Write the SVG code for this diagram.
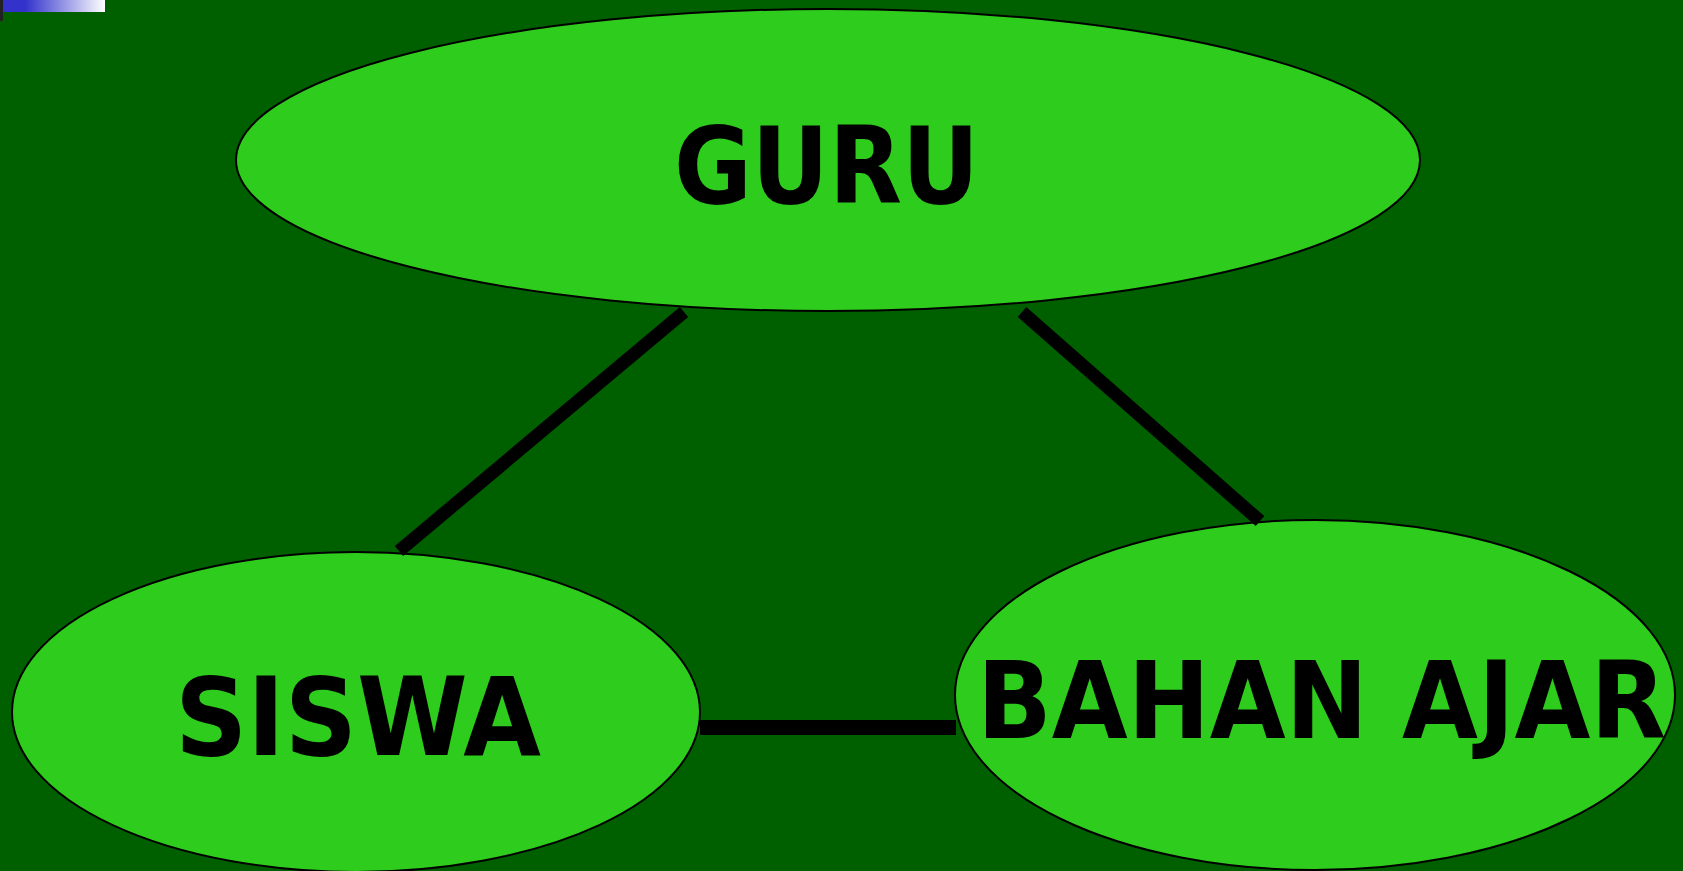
<svg xmlns="http://www.w3.org/2000/svg" width="1683" height="871" viewBox="0 0 1683 871">
<style>
.node{fill:#2ECC1C;stroke:#000;stroke-width:2}
.lbl{font-family:"DejaVu Sans","Liberation Sans",sans-serif;font-weight:bold;fill:#000}
.conn{stroke:#000;stroke-width:13;stroke-linecap:butt;fill:none}
</style>
<defs>
<linearGradient id="g1" x1="0" y1="0" x2="1" y2="0">
<stop offset="0" stop-color="#3333CC"/>
<stop offset="0.22" stop-color="#3333CC"/>
<stop offset="1" stop-color="#FFFFFF"/>
</linearGradient>
</defs>
<rect x="0" y="0" width="1683" height="871" fill="#006000"/>
<rect x="3" y="0" width="102" height="12" fill="url(#g1)"/>
<rect x="0" y="0" width="3" height="21" fill="#222"/>
<g id="guru">
<ellipse class="node" cx="828" cy="160" rx="592" ry="151"/>
<text class="lbl" x="674" y="203" font-size="107" textLength="305" lengthAdjust="spacingAndGlyphs">GURU</text>
</g>
<g id="siswa">
<ellipse class="node" cx="356" cy="712" rx="344" ry="160"/>
<text class="lbl" x="175" y="755" font-size="108" textLength="366" lengthAdjust="spacingAndGlyphs">SISWA</text>
</g>
<g id="bahan-ajar">
<ellipse class="node" cx="1315" cy="695" rx="360" ry="175"/>
<text class="lbl" x="977" y="738" font-size="107" textLength="689" lengthAdjust="spacingAndGlyphs">BAHAN AJAR</text>
</g>
<g id="connectors">
<line class="conn" x1="399" y1="551" x2="684" y2="312"/>
<line class="conn" x1="1022" y1="312" x2="1260" y2="521"/>
<line class="conn" x1="700" y1="727.5" x2="956" y2="727.5" style="stroke-width:15"/>
</g>
</svg>
